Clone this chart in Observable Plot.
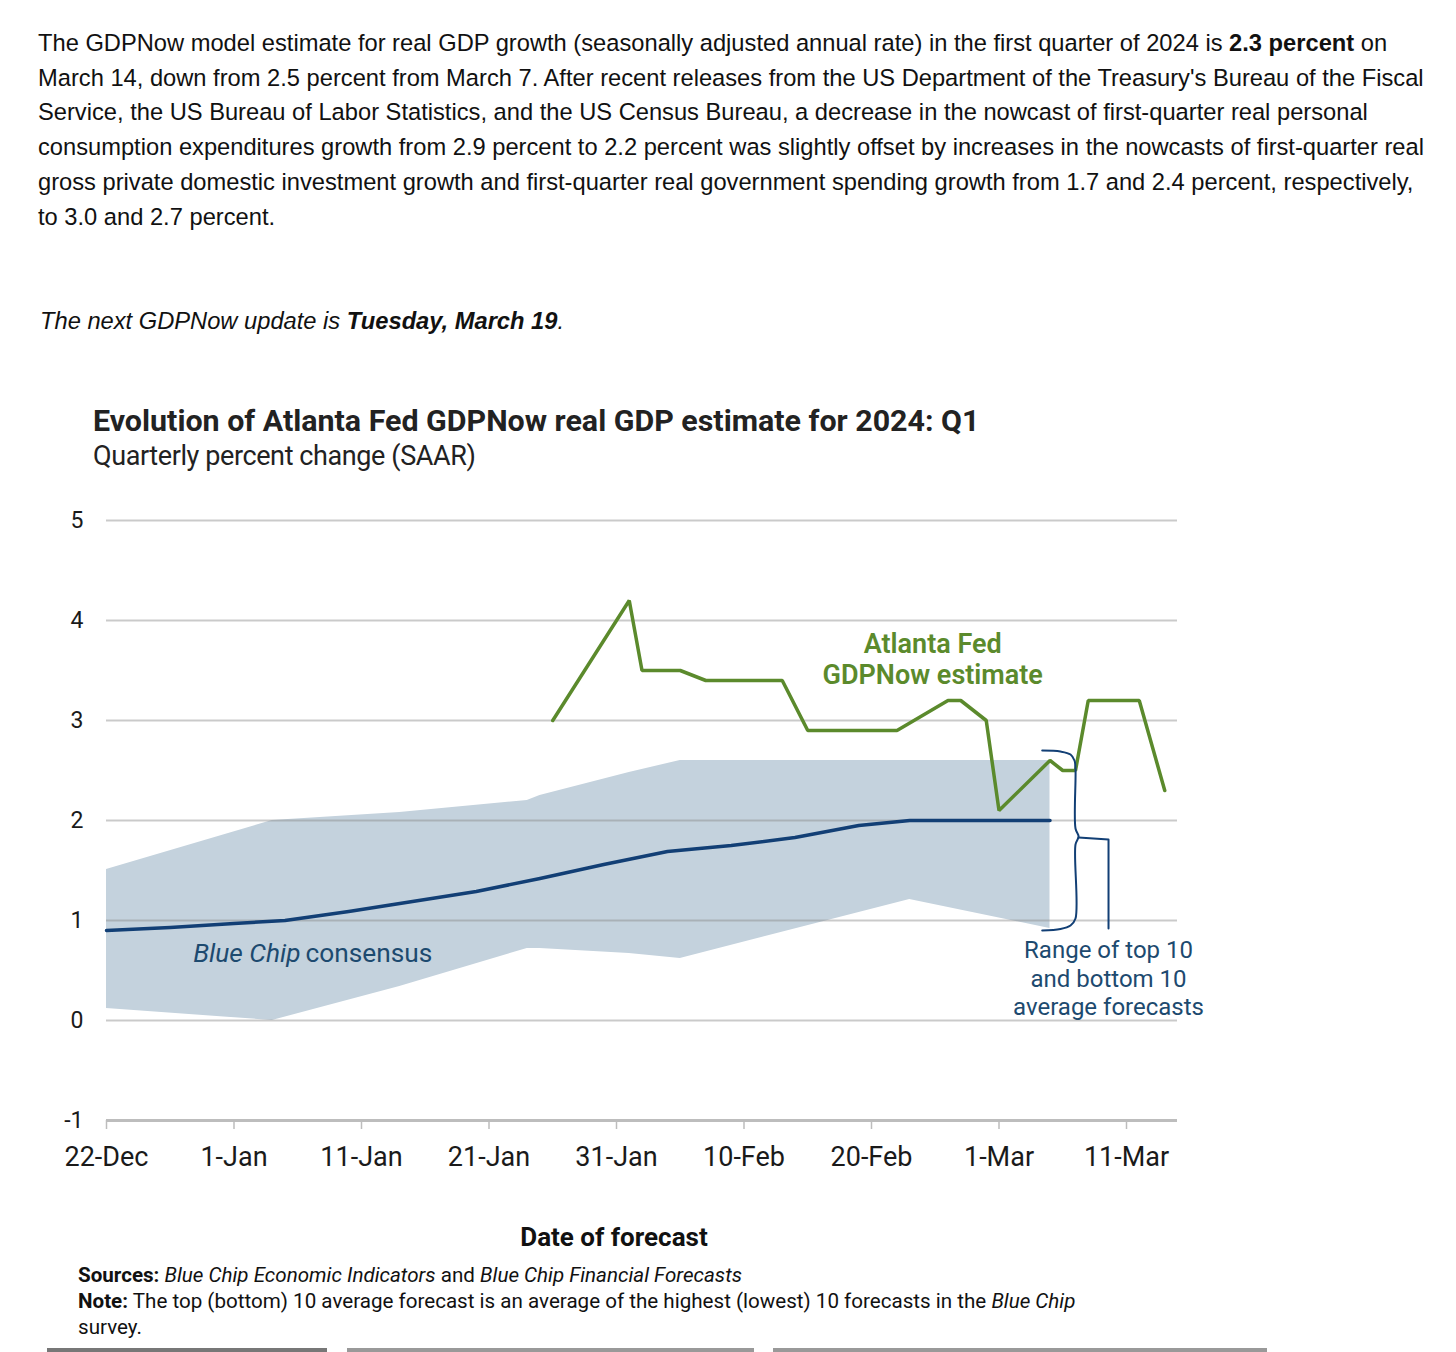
<!DOCTYPE html>
<html><head><meta charset="utf-8">
<script src="https://cdn.jsdelivr.net/npm/d3@7"></script>
<script src="https://cdn.jsdelivr.net/npm/@observablehq/plot@0.6"></script>
<style>
html,body{margin:0;padding:0;background:#fff;}
body{width:1456px;height:1352px;position:relative;overflow:hidden;}
.para{position:absolute;left:38px;top:26px;font-family:"Liberation Sans",Arial,sans-serif;font-size:23.7px;line-height:34.7px;color:#111;white-space:nowrap;}
.next{position:absolute;left:40px;top:303.5px;font-family:"Liberation Sans",Arial,sans-serif;font-size:23.7px;line-height:34.7px;color:#111;font-style:italic;white-space:nowrap;}
.title{position:absolute;left:93px;top:405.5px;font-family:Roboto,sans-serif;font-weight:700;font-size:30.4px;line-height:1;color:#222;white-space:nowrap;}
.sub{position:absolute;left:93px;top:442.5px;font-family:Roboto,sans-serif;font-size:27px;line-height:1;color:#222;white-space:nowrap;letter-spacing:-0.4px;}
#chart{position:absolute;left:0;top:490px;}
.xtitle{position:absolute;left:614px;top:1224px;transform:translateX(-50%);font-family:Roboto,sans-serif;font-weight:700;font-size:26px;line-height:1;color:#111;white-space:nowrap;}
.notes{position:absolute;left:78px;top:1262px;font-family:Roboto,sans-serif;font-size:20.6px;line-height:26px;color:#111;white-space:nowrap;}
.bar{position:absolute;top:1348px;height:4px;background:#999;}
</style>
</head><body>
<div class="para">The GDPNow model estimate for real GDP growth (seasonally adjusted annual rate) in the first quarter of 2024 is <b>2.3 percent</b> on<br>March 14, down from 2.5 percent from March 7. After recent releases from the US Department of the Treasury's Bureau of the Fiscal<br>Service, the US Bureau of Labor Statistics, and the US Census Bureau, a decrease in the nowcast of first-quarter real personal<br>consumption expenditures growth from 2.9 percent to 2.2 percent was slightly offset by increases in the nowcasts of first-quarter real<br>gross private domestic investment growth and first-quarter real government spending growth from 1.7 and 2.4 percent, respectively,<br>to 3.0 and 2.7 percent.</div>
<div class="next">The next GDPNow update is <b>Tuesday, March 19</b>.</div>
<div class="title">Evolution of Atlanta Fed GDPNow real GDP estimate for 2024: Q1</div>
<div class="sub">Quarterly percent change (SAAR)</div>
<div id="chart"></div>
<div class="xtitle">Date of forecast</div>
<div class="notes"><b>Sources:</b> <i>Blue Chip Economic Indicators</i> and <i>Blue Chip Financial Forecasts</i><br><b>Note:</b> The top (bottom) 10 average forecast is an average of the highest (lowest) 10 forecasts in the <i>Blue Chip</i><br>survey.</div>
<div class="bar" style="left:47px;width:280px;background:#777"></div>
<div class="bar" style="left:347px;width:407px"></div>
<div class="bar" style="left:773px;width:494px"></div>
<script>
// ---- data ----
const gdpDates = ["2024-01-26","2024-02-01","2024-02-02","2024-02-05","2024-02-07","2024-02-13","2024-02-15","2024-02-22","2024-02-26","2024-02-27","2024-02-29","2024-03-01","2024-03-05","2024-03-06","2024-03-07","2024-03-08","2024-03-12","2024-03-14"];
const gdpValues = [3.0, 4.2, 3.5, 3.5, 3.4, 3.4, 2.9, 2.9, 3.2, 3.2, 3.0, 2.1, 2.6, 2.5, 2.5, 3.2, 3.2, 2.3];

const consensusDates = ["2023-12-22","2023-12-27","2024-01-01","2024-01-05","2024-01-10","2024-01-15","2024-01-20","2024-01-25","2024-01-30","2024-02-04","2024-02-09","2024-02-14","2024-02-19","2024-02-23","2024-03-05"];
const consensusValues = [0.90, 0.93, 0.97, 1.00, 1.09, 1.19, 1.29, 1.42, 1.56, 1.69, 1.75, 1.83, 1.95, 2.00, 2.00];

const bandDates = ["2023-12-22","2024-01-04","2024-01-14","2024-01-24","2024-01-25","2024-02-01","2024-02-05","2024-02-23","2024-03-05"];
const bandTop10 = [1.51, 2.00, 2.08, 2.20, 2.25, 2.48, 2.60, 2.60, 2.60];
const bandBottom10 = [0.12, 0.00, 0.34, 0.72, 0.72, 0.67, 0.62, 1.21, 0.92];

const yTicks = [-1, 0, 1, 2, 3, 4, 5];
const gridValues = [0, 1, 2, 3, 4, 5];
const xTickDates = ["2023-12-22","2024-01-01","2024-01-11","2024-01-21","2024-01-31","2024-02-10","2024-02-20","2024-03-01","2024-03-11"];
const xTickLabels = ["22-Dec","1-Jan","11-Jan","21-Jan","31-Jan","10-Feb","20-Feb","1-Mar","11-Mar"];

// brace annotation (days after 22-Dec, value)
const braceDays =   [73.39, 74.82, 75.61, 75.92, 76.0, 76.0, 76.24, 76.0, 76.0, 75.61, 74.82, 73.39];
const braceValues = [2.70, 2.69, 2.66, 2.60, 2.52, 1.92, 1.84, 1.76, 1.02, 0.95, 0.915, 0.90];
const pointerDays = [76.24, 78.59, 78.59];
const pointerValues = [1.83, 1.81, 0.92];

// ---- build ----
const parse = d3.utcParse("%Y-%m-%d");
const x0 = parse("2023-12-22");
const dayOff = n => new Date(x0.getTime() + n * 864e5);
const gdp = gdpDates.map((d, i) => ({date: parse(d), value: gdpValues[i]}));
const cons = consensusDates.map((d, i) => ({date: parse(d), value: consensusValues[i]}));
const band = bandDates.map((d, i) => ({date: parse(d), upper: bandTop10[i], lower: bandBottom10[i]}));
const brace = braceDays.map((d, i) => ({date: dayOff(d), value: braceValues[i]}));
const pointer = pointerDays.map((d, i) => ({date: dayOff(d), value: pointerValues[i]}));
const ticks = xTickDates.map(parse);
const labelOf = new Map(ticks.map((t, i) => [+t, xTickLabels[i]]));

const navy = "#123f75", green = "#5b8a2c", labelBlue = "#1d4a6f";

const chart = Plot.plot({
  width: 1300, height: 700,
  marginLeft: 106, marginRight: 123, marginTop: 30, marginBottom: 70,
  style: {fontFamily: "Roboto, sans-serif", background: "transparent", overflow: "visible", color: "#222"},
  x: {type: "utc", domain: [x0, parse("2024-03-15")]},
  y: {domain: [-1, 5]},
  marks: [
    Plot.areaY(band, {x: "date", y1: "lower", y2: "upper", fill: "#c4d2dd", curve: "linear"}),
    Plot.ruleY(gridValues, {stroke: "#8a8a8a", strokeOpacity: 0.45, strokeWidth: 2}),
    Plot.ruleY([-1], {stroke: "#bdbdbd", strokeWidth: 3}),
    Plot.axisX({ticks, tickFormat: d => labelOf.get(+d), tickSize: 9, tickPadding: 17, fontSize: 27, stroke: "#bdbdbd", strokeWidth: 1.5, fill: "#1a1a1a", label: null}),
    Plot.axisY({ticks: yTicks, tickSize: 0, tickPadding: 23, fontSize: 23, fill: "#1a1a1a", tickFormat: d => d < 0 ? "-" + Math.abs(d) : String(d), label: null}),
    Plot.line(cons, {x: "date", y: "value", stroke: navy, strokeWidth: 3.5}),
    Plot.line(gdp, {x: "date", y: "value", stroke: green, strokeWidth: 3.5, strokeLinejoin: "miter"}),
    Plot.line(brace, {x: "date", y: "value", stroke: navy, strokeWidth: 2, curve: "catmull-rom"}),
    Plot.line(pointer, {x: "date", y: "value", stroke: navy, strokeWidth: 2}),
    Plot.text(["Atlanta Fed\nGDPNow estimate"], {x: dayOff(64.8), y: 3.62, fill: green, fontSize: 27, fontWeight: 600, lineHeight: 1.15, textAnchor: "middle"}),
    Plot.text(["Blue Chip"], {x: dayOff(15.37), y: 0.67, fill: labelBlue, fontSize: 26.3, fontStyle: "italic", textAnchor: "end", dx: -2}),
    Plot.text(["consensus"], {x: dayOff(15.37), y: 0.67, fill: labelBlue, fontSize: 26.3, textAnchor: "start", dx: 3}),
    Plot.text(["Range of top 10\nand bottom 10\naverage forecasts"], {x: dayOff(78.59), y: 0.43, fill: labelBlue, fontSize: 24, lineHeight: 1.19, textAnchor: "middle"})
  ]
});
document.getElementById("chart").appendChild(chart);
</script>
</body></html>
